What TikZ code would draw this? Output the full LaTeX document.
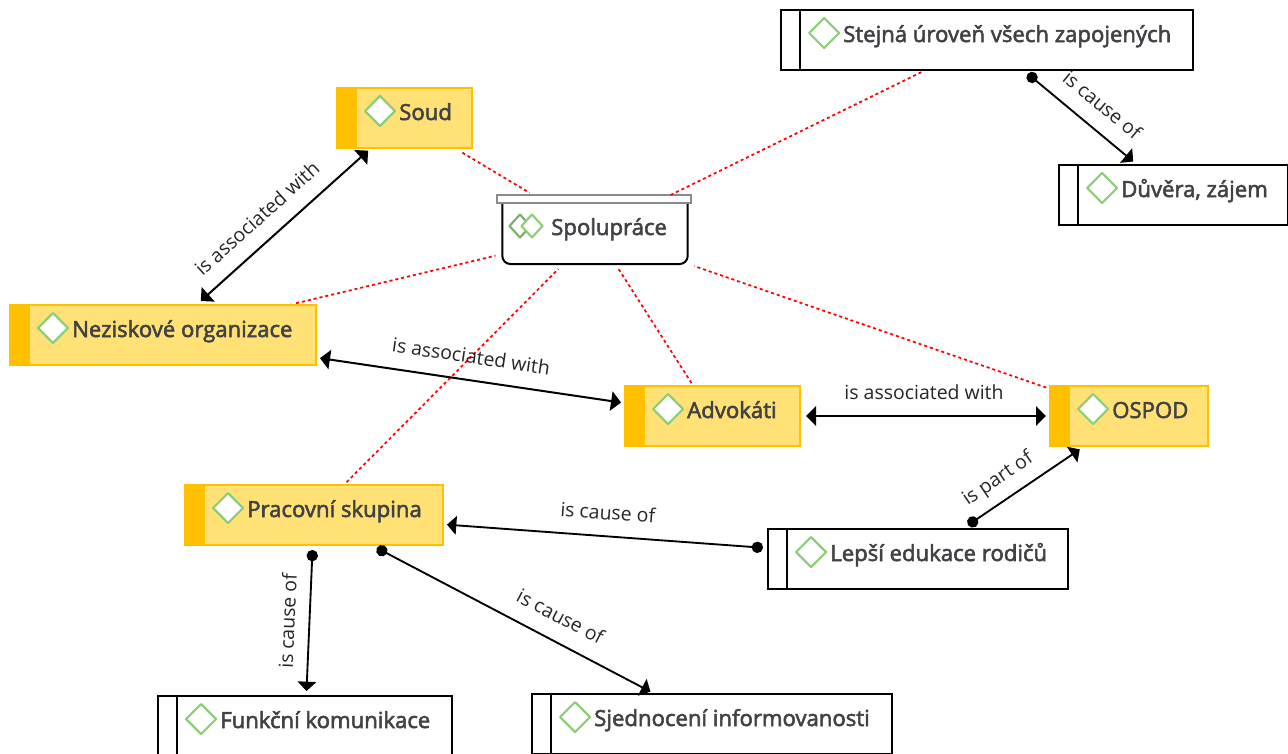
\documentclass[tikz,border=0pt]{standalone}
\usepackage{fontspec}
\setmainfont{Open Sans}
\newfontfamily\nodefont{Open Sans}[FakeBold=2.5]
\usetikzlibrary{arrows.meta}
\definecolor{goldfill}{HTML}{FFE176}
\definecolor{goldbar}{HTML}{FFC000}
\definecolor{leaf}{HTML}{8CCF78}
\definecolor{ink}{HTML}{404245}
\definecolor{lidgray}{HTML}{8A8A8A}
\tikzset{
  boxbase/.style={rectangle,inner sep=0pt,outer sep=0pt,minimum height=45pt},
  goldbox/.style={boxbase,draw=goldbar,fill=goldfill,line width=1.1pt},
  plainbox/.style={boxbase,draw=black,fill=white,line width=1.5pt},
  goldstrip/.style={rectangle,inner sep=0pt,outer sep=0pt,fill=goldbar,minimum height=45pt,minimum width=15pt},
  gem/.style={draw=leaf,fill=white,line width=1.6pt,line join=round},
  boxtext/.style={inner sep=0pt,anchor=base west,text=ink,font=\nodefont\fontsize{16.6}{18}\selectfont},
  tie/.style={red,line width=1.3pt,dash pattern=on 2.3pt off 2.2pt},
  assoc/.style={black,line width=1.5pt,{Triangle[length=7.5pt,width=14.5pt]}-{Triangle[length=7.5pt,width=14.5pt]}},
  cause/.style={black,line width=1.4pt,{Circle[length=8.5pt]}-{Triangle[length=7pt,width=14pt]}},
  sh/.style 2 args={shorten <=#1*0.75pt,shorten >=#2*0.75pt},
  lab/.style={sloped,inner sep=0pt,font=\fontsize{14.6}{16}\selectfont,text=black!85,anchor=center,yshift=#1*0.75pt},
}
\newcommand{\gemat}[2]{\path[gem] (#1-15,#2) -- (#1,#2-15) -- (#1+15,#2) -- (#1,#2+15) -- cycle;}
\newcommand{\goldnode}[5]{%
  \node[goldbox,minimum width={#4*0.75pt}] (#1) at ({#2+#4/2},{#3+30}) {};
  \node[goldstrip] (#1s) at ({#2+10},{#3+30}) {};
  \gemat{#2+43}{#3+23}
  \node[boxtext] (#1t) at ({#2+62},{#3+32}) {#5};
}
\newcommand{\plainnode}[5]{%
  \node[plainbox,minimum width={#4*0.75pt}] (#1) at ({#2+#4/2},{#3+30}) {};
  \draw[black,line width=1.5pt] ({#2+19},#3) -- ({#2+19},{#3+60});
  \gemat{#2+43}{#3+23}
  \node[boxtext] (#1t) at ({#2+62},{#3+32}) {#5};
}
\begin{document}
\begin{tikzpicture}[x=0.75pt,y=-0.75pt]
\useasboundingbox (0,0) rectangle (1288,753);
\clip (0,0) rectangle (1288,753);
\goldnode{soud}{337}{88}{135}{Soud}
\goldnode{nezisk}{10}{305}{306}{Neziskové organizace}
\goldnode{advok}{625}{386}{175}{Advokáti}
\goldnode{ospod}{1050}{386}{158}{OSPOD}
\goldnode{prac}{185}{485}{258}{Pracovní skupina}
\plainnode{stejna}{781}{10}{412}{Stejná úroveň všech zapojených}
\plainnode{duvera}{1059}{165}{229}{Důvěra, zájem}
\plainnode{lepsi}{768}{529}{300}{Lepší edukace rodičů}
\plainnode{funk}{158}{696}{294}{Funkční komunikace}
\plainnode{sjed}{532}{694}{360}{Sjednocení informovanosti}
% central node
\node[rectangle,inner sep=0pt,outer sep=0pt,minimum width=139pt,minimum height=48pt] (spol) at (595,232) {};
\draw[black,line width=1.5pt,rounded corners=6pt] (spol.north west) -- (spol.south west) -- (spol.south east) -- (spol.north east);
\node[rectangle,inner sep=0pt,outer sep=0pt,draw=lidgray,fill=white,line width=1.3pt,minimum width=145pt,minimum height=6pt] (lid) at (594,199) {};
\path[draw=leaf!85!black,line width=1.6pt,line join=round] (520,226) +(-10.5,0) -- +(0,-11.5) -- +(10.5,0) -- +(0,11.5) -- cycle;
\path[gem] (532,226) +(-10.5,0) -- +(0,-11.5) -- +(10.5,0) -- +(0,11.5) -- cycle;
\node[boxtext] (spolt) at (551,235) {Spolupráce};
% ties
\draw[tie,sh={9}{14}] (soud) -- (spol);
\draw[tie,sh={7.6}{7}] (nezisk) -- (spol);
\draw[tie,sh={5}{11}] (stejna) -- (spol);
\draw[tie,sh={4}{7}] (prac) -- (spol);
\draw[tie,sh={3.5}{5}] (advok) -- (spol);
\draw[tie,sh={4}{7}] (ospod) -- (spol);
% relations
\draw[assoc,sh={4}{6}] (soud) -- node[lab=24,pos=.562] (l1) {is associated with} (nezisk);
\draw[assoc,sh={4}{4}] (nezisk) -- node[lab=24,pos=.491] (l2) {is associated with} (advok);
\draw[assoc,sh={6}{4}] (advok) -- node[lab=24,pos=.496] (l3) {is associated with} (ospod);
\draw[cause,sh={7}{6}] (lepsi) -- node[lab=21,pos=.39] (l4) {is part of} (ospod);
\draw[cause,sh={5}{4}] (lepsi) -- node[lab=24,pos=.498] (l5) {is cause of} (prac);
\draw[cause,sh={6}{5.5}] (stejna) -- node[lab=24,pos=.56] (l6) {is cause of} (duvera);
\draw[cause,sh={5}{5}] (prac) -- node[lab=22,pos=.51] (l7) {is cause of} (funk);
\draw[cause,sh={6.5}{5}] (prac) -- node[lab=25,pos=.627] (l8) {is cause of} (sjed);
\end{tikzpicture}
\end{document}
